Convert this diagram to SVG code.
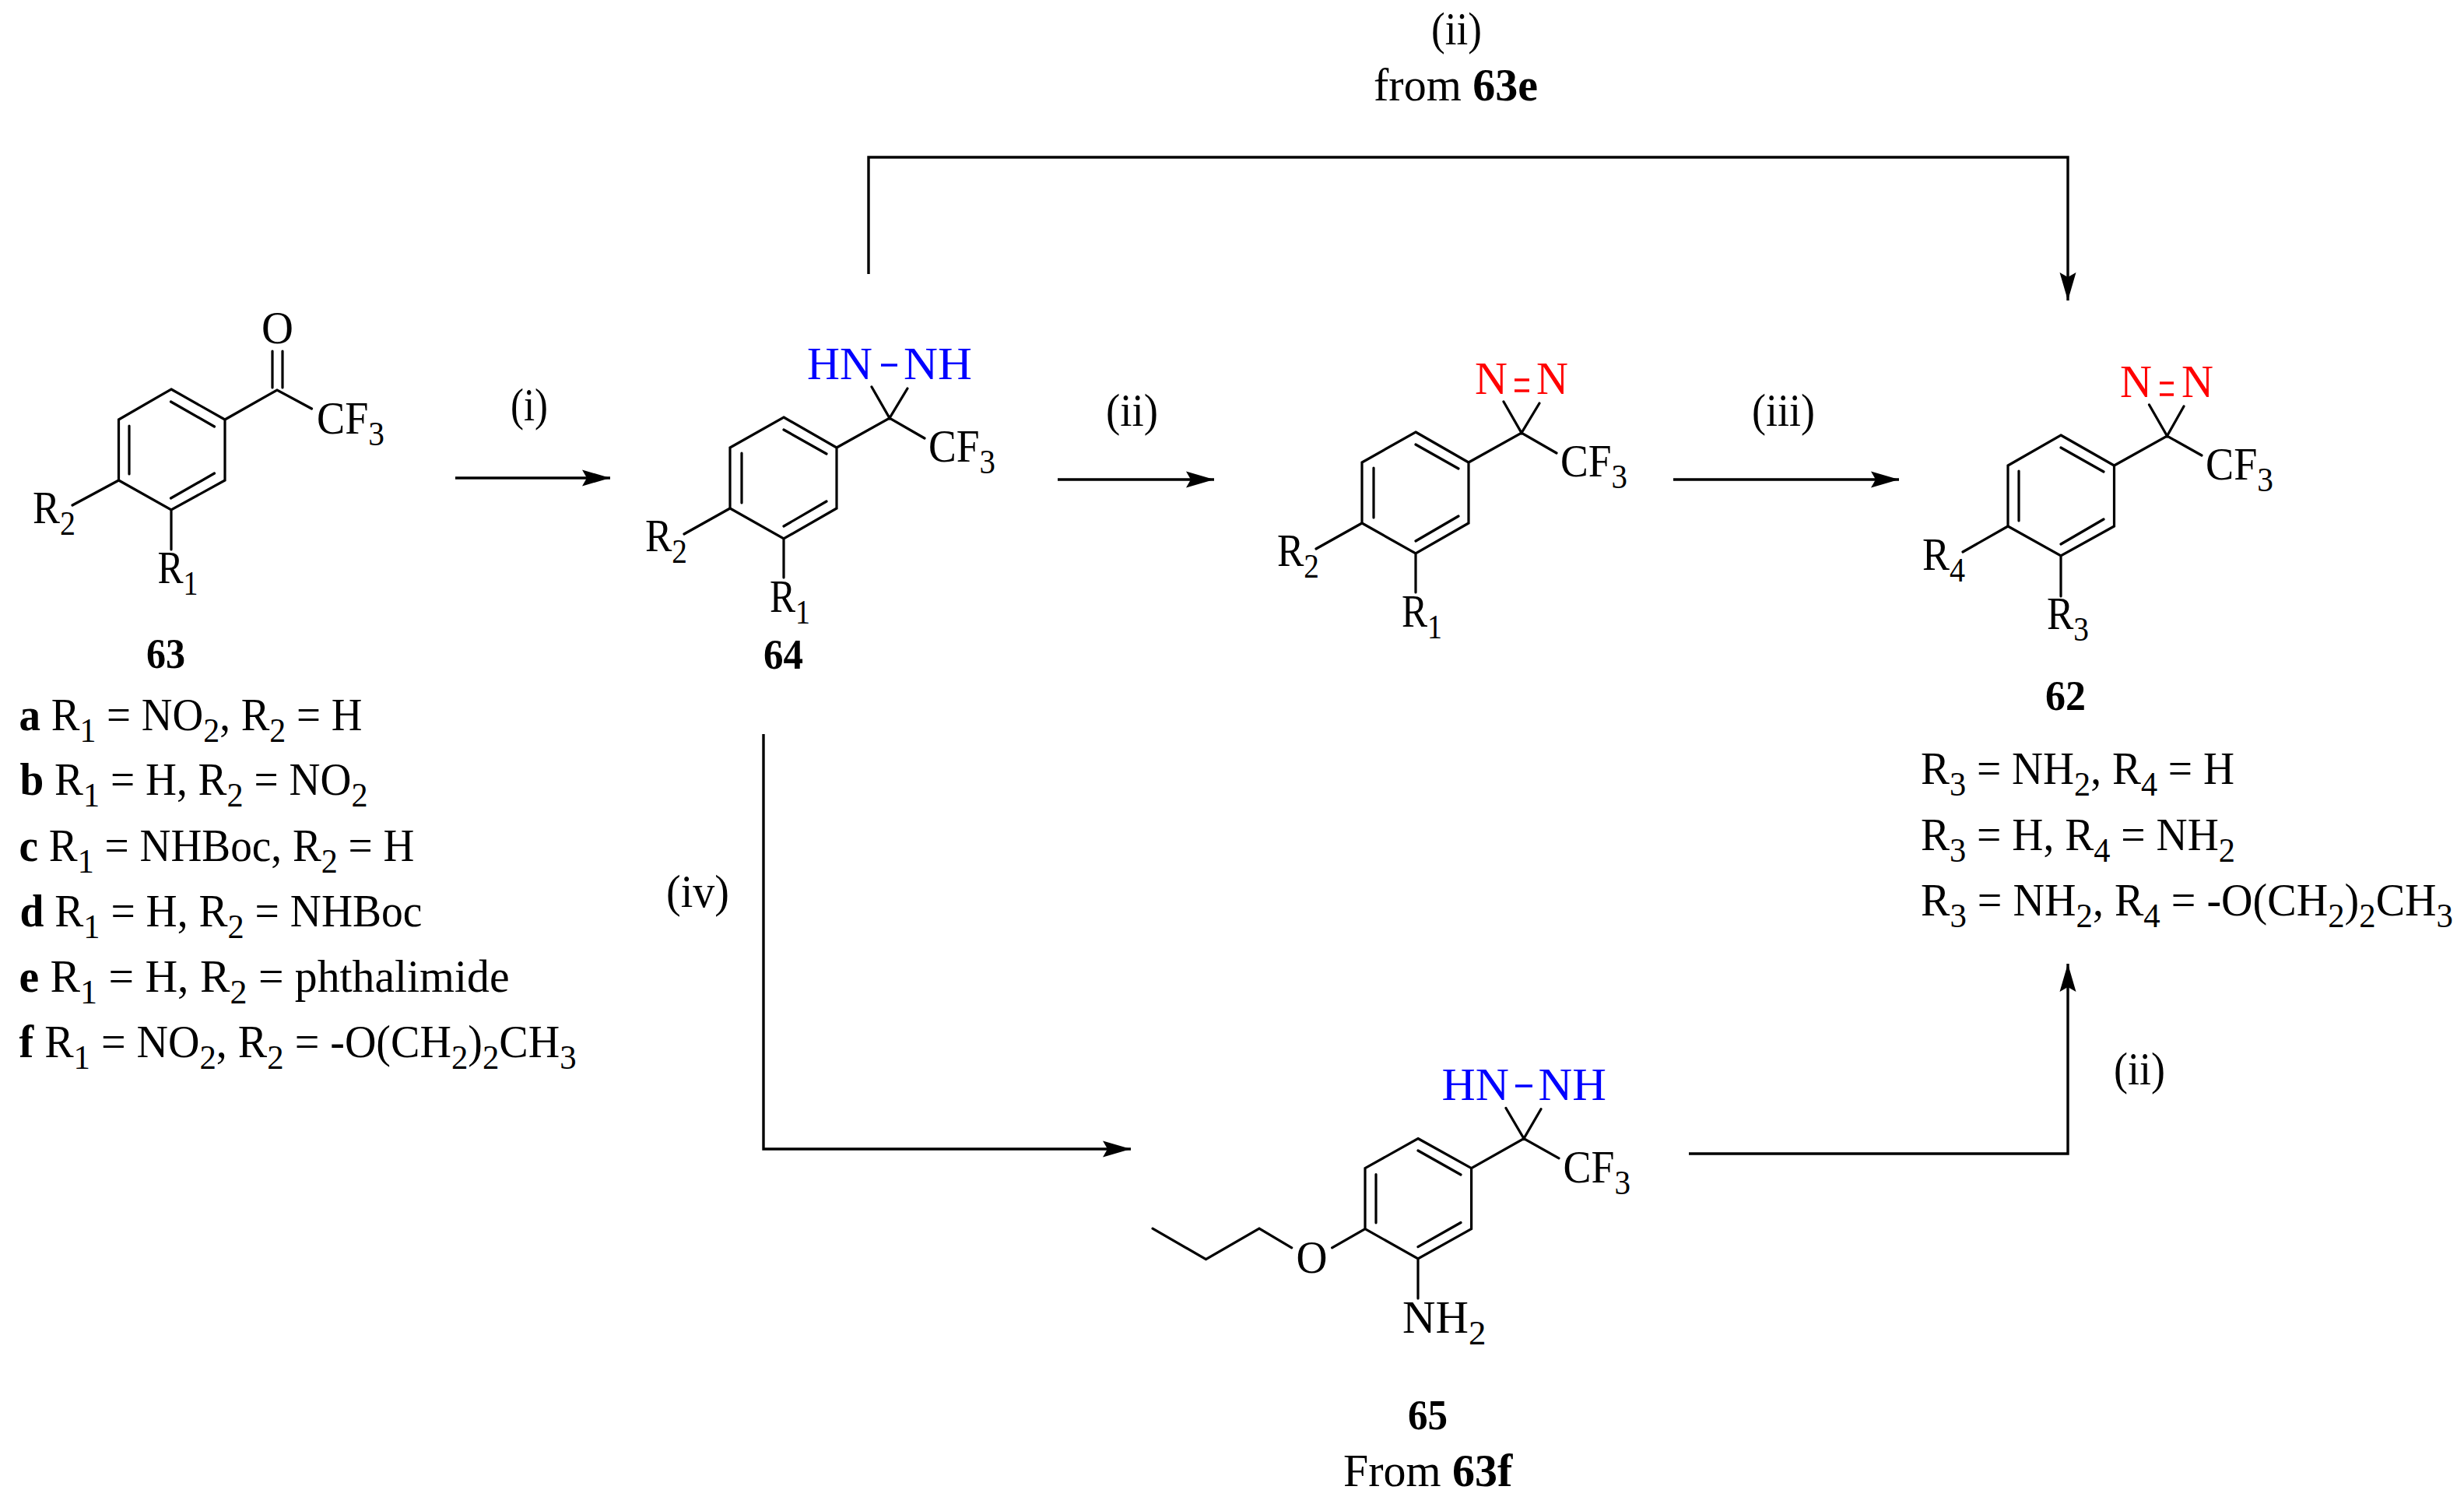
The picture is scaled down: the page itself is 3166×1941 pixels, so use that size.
<svg xmlns="http://www.w3.org/2000/svg" width="3166" height="1941" viewBox="0 0 3166 1941">
<style>
text{font-family:"Liberation Serif","Times New Roman",serif;font-size:59px;fill:#000}
.s{font-size:45px}
.b{font-weight:bold}
.bn{font-weight:bold;font-size:55px}
.blue{fill:#0000ff}
.red{fill:#ff0000}
.bond{fill:none;stroke:#000;stroke-width:3.200;stroke-linecap:round;stroke-linejoin:miter}
.db{stroke:#0000ff;stroke-width:3.500;fill:none}
.dr{stroke:#ff0000;stroke-width:3.500;fill:none}
.arrow{fill:none;stroke:#000;stroke-width:3.400;stroke-linejoin:miter;marker-end:url(#head)}
</style>
<defs>
<marker id="head" markerUnits="userSpaceOnUse" markerWidth="40" markerHeight="24" viewBox="0 0 40 24" refX="38" refY="12" orient="auto">
<path d="M2 1.500 L38 12 L2 22.500 L8 12 Z" fill="#000"/>
</marker>
</defs>
<rect width="3166" height="1941" fill="#fff"/>

<g id="connectors">
<path class="arrow" d="M585 614H784"/>
<path class="arrow" d="M1359 616H1560"/>
<path class="arrow" d="M2150 616H2440"/>
<path class="arrow" d="M1116 352V202H2657V386"/>
<path class="arrow" d="M981 943V1476H1453"/>
<path class="arrow" d="M2170 1482H2657V1238"/>
</g>

<g id="arrow-labels">
<text x="656" y="540" textLength="48" lengthAdjust="spacingAndGlyphs">(i)</text>
<text x="1421" y="547" textLength="67" lengthAdjust="spacingAndGlyphs">(ii)</text>
<text x="2251" y="547" textLength="81" lengthAdjust="spacingAndGlyphs">(iii)</text>
<text x="856" y="1165" textLength="81" lengthAdjust="spacingAndGlyphs">(iv)</text>
<text x="2716" y="1393" textLength="66" lengthAdjust="spacingAndGlyphs">(ii)</text>
<text x="1839" y="57" textLength="65" lengthAdjust="spacingAndGlyphs">(ii)</text>
<text x="1765" y="129" textLength="211" lengthAdjust="spacingAndGlyphs">from <tspan class="b">63e</tspan></text>
</g>

<g id="node-63">
<path class="bond" d="M220 500L289 539V617L220 655L152.500 617V539ZM219.500 516L275.500 548M166 547V609M275.500 608L219.500 640M289 539L356 501L400.500 525M350 451V498M363 451V498M152.500 617L93 649M220 655V706"/>
<text x="336" y="441" textLength="41" lengthAdjust="spacingAndGlyphs">O</text>
<text x="407" y="557" textLength="87" lengthAdjust="spacingAndGlyphs">CF<tspan class="s" dy="15">3</tspan></text>
<text x="42" y="672" textLength="55" lengthAdjust="spacingAndGlyphs">R<tspan class="s" dy="15">2</tspan></text>
<text x="202.500" y="749" textLength="52" lengthAdjust="spacingAndGlyphs">R<tspan class="s" dy="15">1</tspan></text>
<text class="bn" x="188" y="858" textLength="50" lengthAdjust="spacingAndGlyphs">63</text>
</g>

<g id="legend-63">
<text x="24.500" y="937.500" textLength="441" lengthAdjust="spacingAndGlyphs"><tspan class="b">a</tspan> R<tspan class="s" dy="15">1</tspan><tspan dy="-15"> = NO</tspan><tspan class="s" dy="15">2</tspan><tspan dy="-15">, R</tspan><tspan class="s" dy="15">2</tspan><tspan dy="-15"> = H</tspan></text>
<text x="25.500" y="1021" textLength="447" lengthAdjust="spacingAndGlyphs"><tspan class="b">b</tspan> R<tspan class="s" dy="15">1</tspan><tspan dy="-15"> = H, R</tspan><tspan class="s" dy="15">2</tspan><tspan dy="-15"> = NO</tspan><tspan class="s" dy="15">2</tspan></text>
<text x="24.500" y="1105.500" textLength="508" lengthAdjust="spacingAndGlyphs"><tspan class="b">c</tspan> R<tspan class="s" dy="15">1</tspan><tspan dy="-15"> = NHBoc, R</tspan><tspan class="s" dy="15">2</tspan><tspan dy="-15"> = H</tspan></text>
<text x="25.500" y="1189.500" textLength="517" lengthAdjust="spacingAndGlyphs"><tspan class="b">d</tspan> R<tspan class="s" dy="15">1</tspan><tspan dy="-15"> = H, R</tspan><tspan class="s" dy="15">2</tspan><tspan dy="-15"> = NHBoc</tspan></text>
<text x="24.500" y="1274" textLength="630" lengthAdjust="spacingAndGlyphs"><tspan class="b">e</tspan> R<tspan class="s" dy="15">1</tspan><tspan dy="-15"> = H, R</tspan><tspan class="s" dy="15">2</tspan><tspan dy="-15"> = phthalimide</tspan></text>
<text x="24.500" y="1357.600" textLength="716" lengthAdjust="spacingAndGlyphs"><tspan class="b">f</tspan> R<tspan class="s" dy="15">1</tspan><tspan dy="-15"> = NO</tspan><tspan class="s" dy="15">2</tspan><tspan dy="-15">, R</tspan><tspan class="s" dy="15">2</tspan><tspan dy="-15"> = -O(CH</tspan><tspan class="s" dy="15">2</tspan><tspan dy="-15">)</tspan><tspan class="s" dy="15">2</tspan><tspan dy="-15">CH</tspan><tspan class="s" dy="15">3</tspan></text>
</g>

<g id="node-64">
<path class="bond" d="M1007 536L1075 575V653L1007 692L938 653V575ZM1007 552L1062 583M953 582V646M1062 644L1007 676M1075 575L1143 537L1188 563M1120 497L1143 537L1166 499M938 653L879 686M1007 692V742"/>
<text class="blue" x="1037" y="487" textLength="84" lengthAdjust="spacingAndGlyphs">HN</text>
<path class="db" d="M1132 469H1153"/>
<text class="blue" x="1161" y="487" textLength="88" lengthAdjust="spacingAndGlyphs">NH</text>
<text x="1193" y="593" textLength="86" lengthAdjust="spacingAndGlyphs">CF<tspan class="s" dy="15">3</tspan></text>
<text x="829" y="708" textLength="54" lengthAdjust="spacingAndGlyphs">R<tspan class="s" dy="15">2</tspan></text>
<text x="989" y="786" textLength="52" lengthAdjust="spacingAndGlyphs">R<tspan class="s" dy="15">1</tspan></text>
<text class="bn" x="981" y="859" textLength="51" lengthAdjust="spacingAndGlyphs">64</text>
</g>

<g id="node-diazirine">
<path class="bond" d="M1819 555L1887 594V672L1819 711L1750 672V594ZM1819 571L1874 602M1765 601V665M1874 663L1819 695M1887 594L1955 556L2000 582M1932 516L1955 556L1978 518M1750 672L1691 705M1819 711V761"/>
<text class="red" x="1895" y="506" textLength="42" lengthAdjust="spacingAndGlyphs">N</text>
<path class="dr" d="M1946 488H1965M1946 502H1965"/>
<text class="red" x="1974" y="506" textLength="41" lengthAdjust="spacingAndGlyphs">N</text>
<text x="2005" y="612" textLength="86" lengthAdjust="spacingAndGlyphs">CF<tspan class="s" dy="15">3</tspan></text>
<text x="1641" y="727" textLength="54" lengthAdjust="spacingAndGlyphs">R<tspan class="s" dy="15">2</tspan></text>
<text x="1801" y="805" textLength="52" lengthAdjust="spacingAndGlyphs">R<tspan class="s" dy="15">1</tspan></text>
</g>

<g id="node-62">
<path class="bond" d="M2648 559L2716.500 598V676L2648 714L2580 676V598ZM2648 575L2703 606M2594 605V669M2703 667L2648 699M2716.500 598L2784.500 560L2829 585M2761.500 520L2784.500 560L2806 522M2580 676L2522 709M2648 714V766"/>
<text class="red" x="2724" y="510" textLength="41" lengthAdjust="spacingAndGlyphs">N</text>
<path class="dr" d="M2775 492H2793M2775 507H2793"/>
<text class="red" x="2803" y="510" textLength="41" lengthAdjust="spacingAndGlyphs">N</text>
<text x="2834" y="616" textLength="87" lengthAdjust="spacingAndGlyphs">CF<tspan class="s" dy="15">3</tspan></text>
<text x="2470" y="732" textLength="55" lengthAdjust="spacingAndGlyphs">R<tspan class="s" dy="15">4</tspan></text>
<text x="2630" y="808" textLength="54" lengthAdjust="spacingAndGlyphs">R<tspan class="s" dy="15">3</tspan></text>
<text class="bn" x="2628" y="912" textLength="52" lengthAdjust="spacingAndGlyphs">62</text>
</g>

<g id="legend-62">
<text x="2468" y="1007" textLength="403" lengthAdjust="spacingAndGlyphs">R<tspan class="s" dy="15">3</tspan><tspan dy="-15"> = NH</tspan><tspan class="s" dy="15">2</tspan><tspan dy="-15">, R</tspan><tspan class="s" dy="15">4</tspan><tspan dy="-15"> = H</tspan></text>
<text x="2468" y="1091.700" textLength="404" lengthAdjust="spacingAndGlyphs">R<tspan class="s" dy="15">3</tspan><tspan dy="-15"> = H, R</tspan><tspan class="s" dy="15">4</tspan><tspan dy="-15"> = NH</tspan><tspan class="s" dy="15">2</tspan></text>
<text x="2468" y="1176" textLength="684" lengthAdjust="spacingAndGlyphs">R<tspan class="s" dy="15">3</tspan><tspan dy="-15"> = NH</tspan><tspan class="s" dy="15">2</tspan><tspan dy="-15">, R</tspan><tspan class="s" dy="15">4</tspan><tspan dy="-15"> = -O(CH</tspan><tspan class="s" dy="15">2</tspan><tspan dy="-15">)</tspan><tspan class="s" dy="15">2</tspan><tspan dy="-15">CH</tspan><tspan class="s" dy="15">3</tspan></text>
</g>

<g id="node-65">
<path class="bond" d="M1822 1462.500L1890.600 1500.700V1578.600L1822 1617L1754 1578.600V1500.700ZM1822 1478L1877 1509M1768 1508.500V1570.800M1877 1570.500L1822 1601.600M1890.600 1500.700L1958 1462.500L2003 1487.800M1935 1423.500L1958 1462.500L1980 1424.700M1754 1578.600L1711.600 1602.800M1659.700 1602.800L1618 1578.200L1549.500 1617.600L1481 1578.200M1822 1617V1668"/>
<text class="blue" x="1852.500" y="1412.600" textLength="86.500" lengthAdjust="spacingAndGlyphs">HN</text>
<path class="db" d="M1947 1395H1969"/>
<text class="blue" x="1976.500" y="1412.600" textLength="87.500" lengthAdjust="spacingAndGlyphs">NH</text>
<text x="2008.600" y="1519" textLength="86.400" lengthAdjust="spacingAndGlyphs">CF<tspan class="s" dy="15">3</tspan></text>
<text x="1665.600" y="1635" textLength="40" lengthAdjust="spacingAndGlyphs">O</text>
<text x="1802" y="1712" textLength="107.400" lengthAdjust="spacingAndGlyphs">NH<tspan class="s" dy="15">2</tspan></text>
<text class="bn" x="1809" y="1836" textLength="51" lengthAdjust="spacingAndGlyphs">65</text>
<text x="1726" y="1908.700" textLength="217.400" lengthAdjust="spacingAndGlyphs">From <tspan class="b">63f</tspan></text>
</g>
</svg>
